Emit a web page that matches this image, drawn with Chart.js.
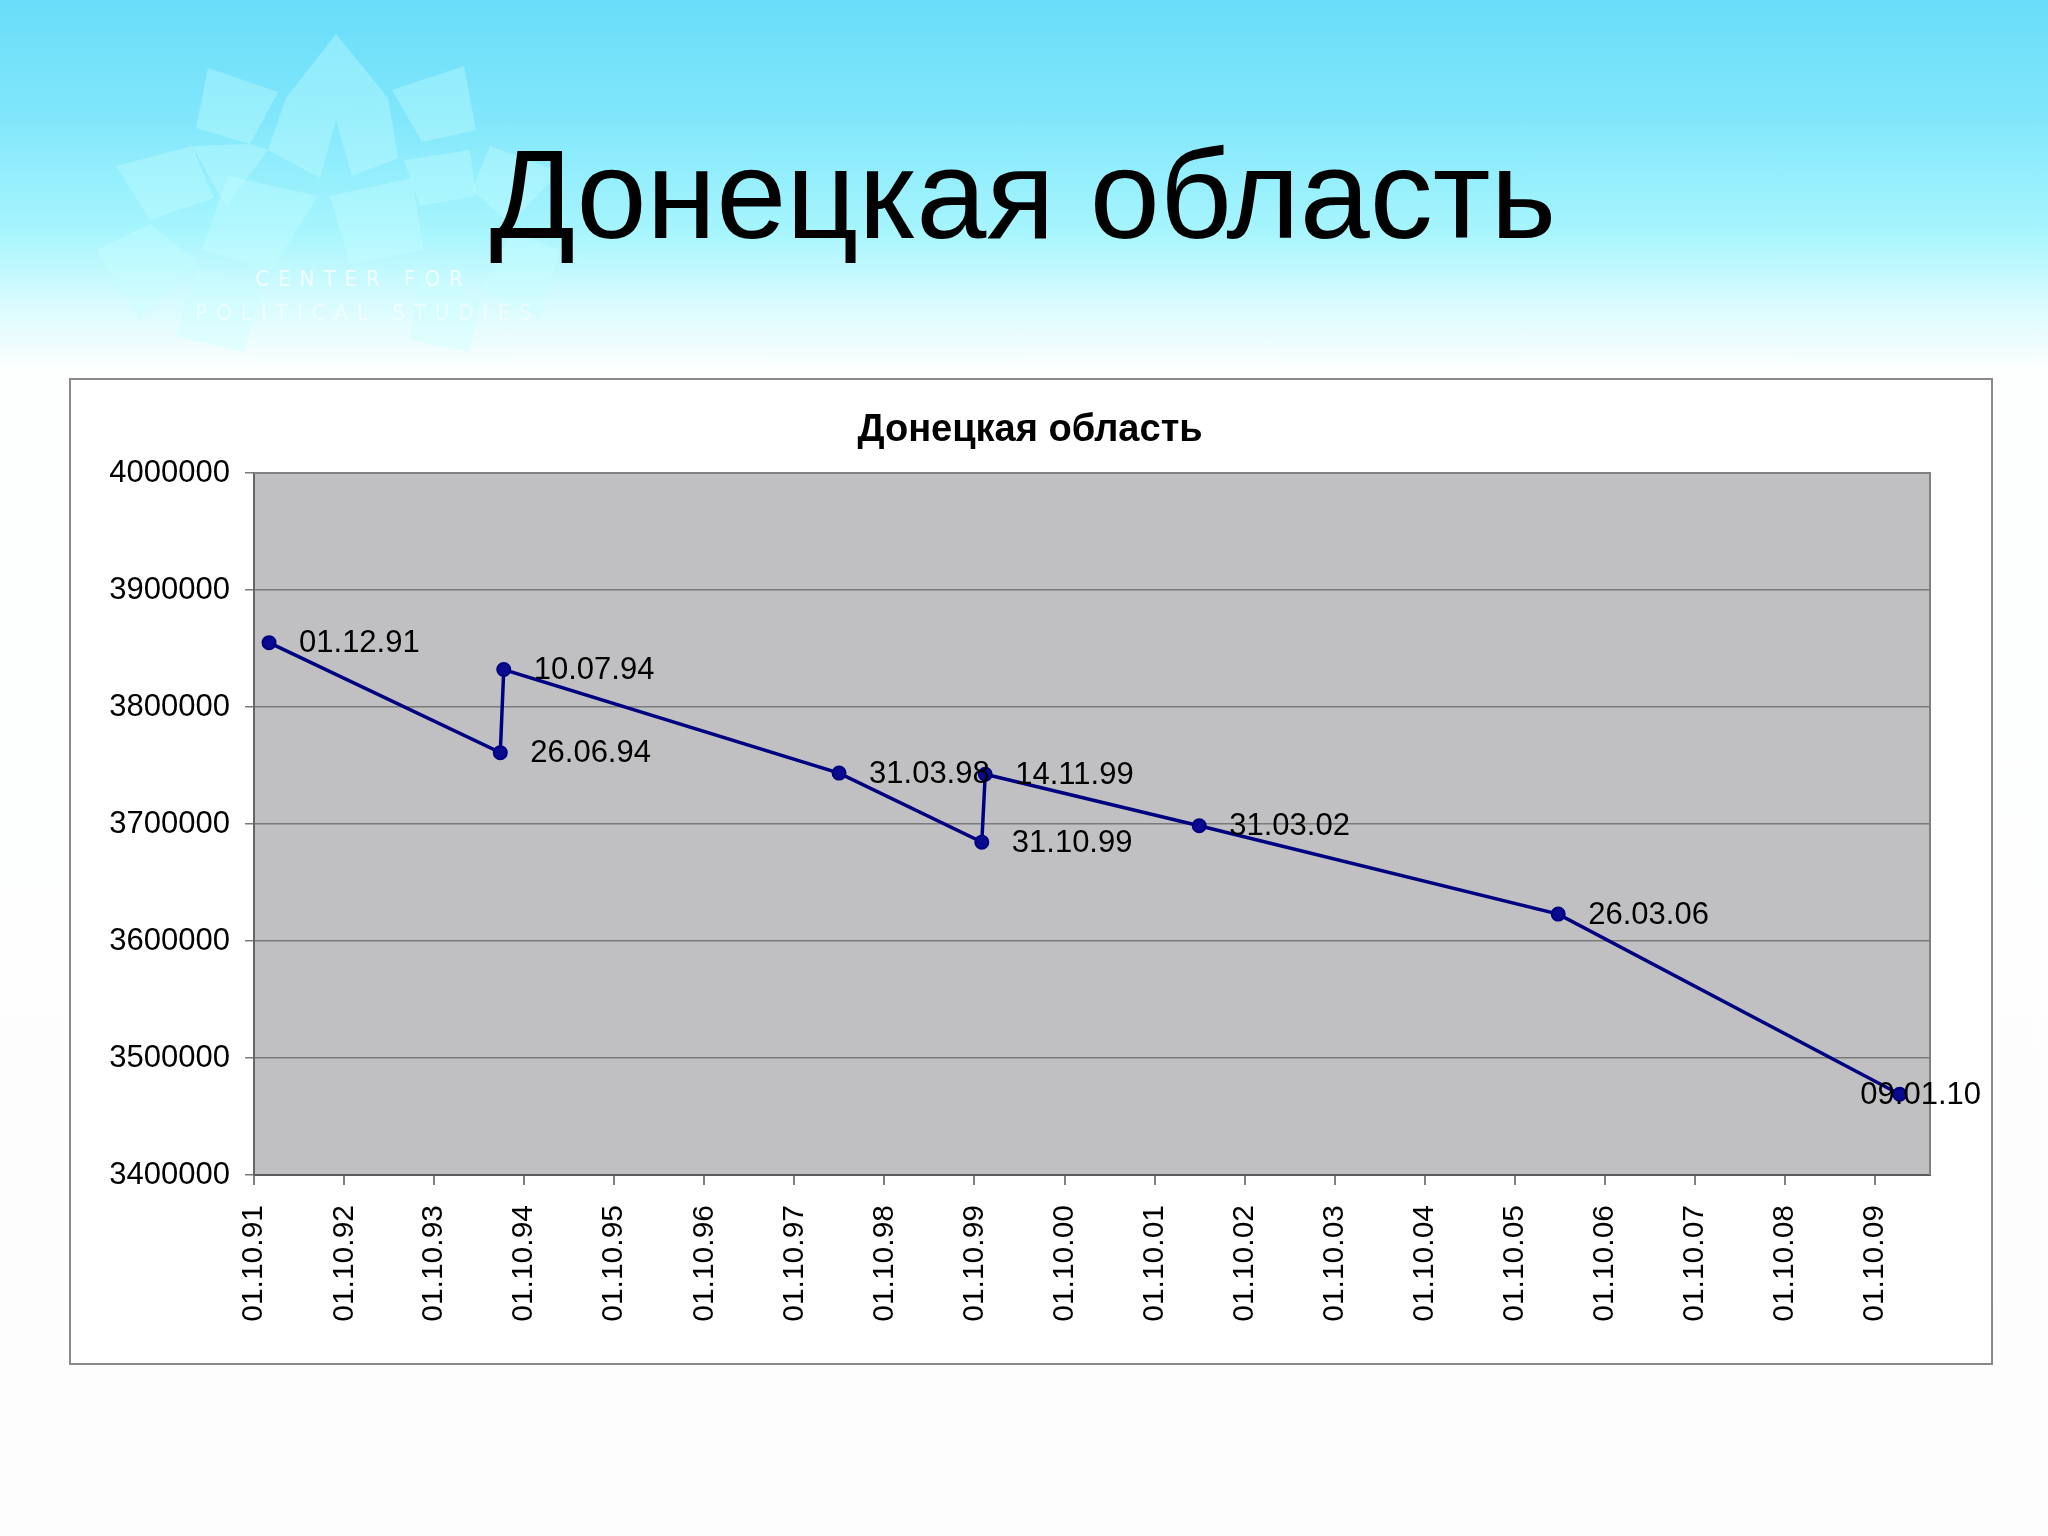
<!DOCTYPE html>
<html>
<head>
<meta charset="utf-8">
<script src="https://cdn.jsdelivr.net/npm/chart.js@4.4.1/dist/chart.umd.min.js"></script>
<style>
  html, body { margin: 0; padding: 0; }
  body {
    width: 2048px; height: 1536px; position: relative; overflow: hidden;
    background: linear-gradient(to bottom, #69ddf9 0px, #7fe6fb 110px, #a6f5fd 230px, #d6fbfe 300px, #fdfefe 370px, #fdfdfd 1536px);
    font-family: "Liberation Sans", Arial, sans-serif;
  }
  #logo { position: absolute; left: 0; top: 0; }
  #slideTitle {
    position: absolute; left: 0; width: 2048px; top: 132px;
    text-align: center; font-size: 126px; line-height: 126px; color: #000;
  }
  #slideTitle span { position: relative; left: -1px; }
  #frame {
    position: absolute; left: 69px; top: 378px; width: 1920px; height: 983px;
    border: 2px solid #8a8a8a; background: #ffffff;
  }
  #c { position: absolute; left: 70px; top: 379px; }
</style>
</head>
<body>
<svg id="logo" width="700" height="380" viewBox="0 0 700 380">
  <g fill="#c8ffff" fill-opacity="0.35" stroke="none">
    <polygon points="336,34 388,98 336,120 286,98"/>
    <polygon points="208,68 278,92 250,144 196,128"/>
    <polygon points="464,66 476,130 422,142 392,90"/>
    <polygon points="286,98 336,120 320,178 268,150"/>
    <polygon points="388,98 398,158 352,176 336,120"/>
    <polygon points="116,166 192,146 214,198 150,220"/>
    <polygon points="490,146 560,172 510,224 472,190"/>
    <polygon points="192,146 250,144 268,150 226,206"/>
    <polygon points="404,160 470,150 476,196 420,206"/>
    <polygon points="228,176 318,196 272,270 202,250"/>
    <polygon points="330,196 412,178 424,250 350,264"/>
    <polygon points="96,250 150,224 198,262 140,320"/>
    <polygon points="512,232 560,250 540,318 480,290"/>
    <polygon points="196,270 262,290 244,352 176,336"/>
    <polygon points="420,270 480,300 470,352 410,340"/>
  </g>
  <text x="255" y="286" fill="#ffffff" fill-opacity="0.75" font-family="DejaVu Sans Condensed, DejaVu Sans" font-size="22" letter-spacing="9">CENTER FOR</text>
  <text x="195" y="320" fill="#ffffff" fill-opacity="0.55" font-family="DejaVu Sans Condensed, DejaVu Sans" font-size="22" letter-spacing="9">POLITICAL STUDIES</text>
</svg>
<div id="slideTitle"><span>Донецкая область</span></div>
<div id="frame"></div>
<canvas id="c" width="1920" height="983"></canvas>
<script>
// ---- data ----
const chartTitle = 'Донецкая область';
const pointDates = ['01.12.91', '26.06.94', '10.07.94', '31.03.98', '31.10.99', '14.11.99', '31.03.02', '26.03.06', '09.01.10'];
const voters = [3855000, 3761000, 3832000, 3743500, 3684500, 3742500, 3698500, 3623000, 3469000];
const xTickLabels = ['01.10.91', '01.10.92', '01.10.93', '01.10.94', '01.10.95', '01.10.96', '01.10.97', '01.10.98', '01.10.99', '01.10.00', '01.10.01', '01.10.02', '01.10.03', '01.10.04', '01.10.05', '01.10.06', '01.10.07', '01.10.08', '01.10.09'];
const yTickValues = [3400000, 3500000, 3600000, 3700000, 3800000, 3900000, 4000000];
const xAxisMin = '01.10.91';
const xAxisMax = '12.05.10';

// ---- helpers ----
function dayNum(s) {
  const [d, m, y] = s.split('.').map(Number);
  const yr = y < 50 ? 2000 + y : 1900 + y;
  return Date.UTC(yr, m - 1, d) / 86400000;
}
const tickMap = {};
xTickLabels.forEach(l => { tickMap[dayNum(l)] = l; });

const FONT = '"Liberation Sans", Arial, sans-serif';
const NAVY = '#000080';

const plotBg = {
  id: 'plotBg',
  beforeDraw(chart) {
    const a = chart.chartArea, ctx = chart.ctx;
    ctx.save();
    ctx.fillStyle = '#c0c0c2';
    ctx.fillRect(a.left, a.top, a.right - a.left, a.bottom - a.top);
    ctx.restore();
  },
  afterDatasetsDraw(chart) {
    const a = chart.chartArea, ctx = chart.ctx;
    ctx.save();
    ctx.strokeStyle = '#808080';
    ctx.lineWidth = 2;
    ctx.beginPath();
    ctx.moveTo(a.left, a.top); ctx.lineTo(a.right, a.top); ctx.lineTo(a.right, a.bottom);
    ctx.stroke();
    ctx.restore();
  }
};

const pointLabels = {
  id: 'pointLabels',
  afterDatasetsDraw(chart) {
    const ctx = chart.ctx;
    const meta = chart.getDatasetMeta(0);
    ctx.save();
    ctx.font = '31px ' + FONT;
    ctx.fillStyle = '#000';
    ctx.textBaseline = 'middle';
    ctx.textAlign = 'left';
    meta.data.forEach((pt, i) => {
      const txt = pointDates[i];
      const w = ctx.measureText(txt).width;
      let x = pt.x + 30;
      const maxX = chart.width - 9 - w;
      if (x > maxX) x = maxX;
      ctx.fillText(txt, x, pt.y + 1);
    });
    ctx.restore();
  }
};

new Chart(document.getElementById('c'), {
  type: 'line',
  data: {
    datasets: [{
      data: pointDates.map((d, i) => ({ x: dayNum(d), y: voters[i] })),
      borderColor: NAVY,
      backgroundColor: NAVY,
      borderWidth: 3.5,
      pointRadius: 6.5,
      pointBorderWidth: 2,
      pointBackgroundColor: '#0a0a90',
      pointBorderColor: NAVY,
      tension: 0,
      clip: false
    }]
  },
  options: {
    responsive: false,
    animation: false,
    devicePixelRatio: 1,
    layout: { padding: 0 },
    plugins: {
      legend: { display: false },
      tooltip: { enabled: false },
      title: {
        display: true,
        text: chartTitle,
        color: '#000',
        font: { family: FONT, size: 38, weight: 'bold', lineHeight: 1.2 },
        padding: { top: 29, bottom: 19.4 }
      }
    },
    scales: {
      x: {
        type: 'linear',
        min: dayNum(xAxisMin),
        max: dayNum(xAxisMax),
        afterBuildTicks(scale) {
          scale.ticks = xTickLabels.map(l => ({ value: dayNum(l) }));
        },
        afterFit(scale) { scale.height = 187; },
        grid: { drawOnChartArea: false, drawTicks: true, tickLength: 10, color: '#808080', lineWidth: 2 },
        border: { display: true, color: '#5a5a5a', width: 2 },
        ticks: {
          autoSkip: false,
          minRotation: 90,
          maxRotation: 90,
          padding: 20,
          color: '#000',
          font: { family: FONT, size: 30 },
          callback: v => tickMap[v] || ''
        }
      },
      y: {
        type: 'linear',
        min: 3400000,
        max: 4000000,
        afterBuildTicks(scale) {
          scale.ticks = yTickValues.map(v => ({ value: v }));
        },
        afterFit(scale) { scale.width = 184; },
        grid: { drawTicks: true, tickLength: 9, color: '#7a7a7a', lineWidth: 1.5 },
        border: { display: true, color: '#666666', width: 2 },
        ticks: {
          padding: 15,
          color: '#000',
          font: { family: FONT, size: 31 },
          callback: v => String(v)
        }
      },
      yRight: {
        type: 'linear',
        position: 'right',
        min: 3400000,
        max: 4000000,
        grid: { display: false, drawTicks: false },
        border: { display: false },
        ticks: { display: false },
        afterFit(scale) { scale.width = 60; }
      }
    }
  },
  plugins: [plotBg, pointLabels]
});
</script>
</body>
</html>
